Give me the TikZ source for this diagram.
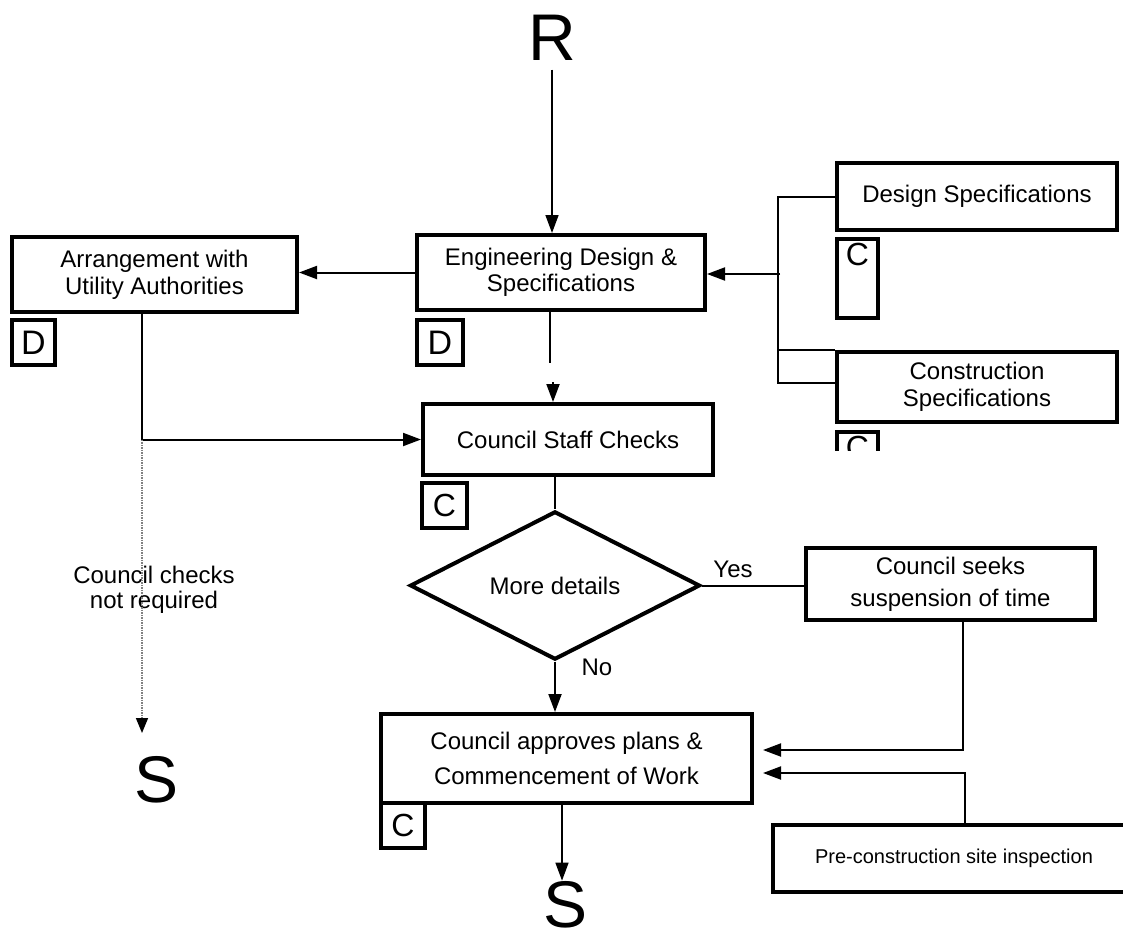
\documentclass[tikz,border=0pt]{standalone}
\usepackage{fontspec}
\setmainfont{Liberation Sans}
\usetikzlibrary{shapes.geometric,arrows.meta}

\begin{document}
\begin{tikzpicture}[x=1pt,y=-1pt,line width=2pt,
  box/.style={draw,rectangle,line width=4pt,inner sep=0pt,align=center,font=\fontsize{24}{26}\selectfont},
  tag/.style={draw,rectangle,line width=3.5pt,inner sep=0pt,font=\fontsize{34}{34}\selectfont},
  big/.style={inner sep=0pt,font=\fontsize{66}{66}\selectfont},
  lbl/.style={inner sep=0pt,align=center,font=\fontsize{24}{25}\selectfont},
  arr/.style={-{Triangle[length=18pt,width=13pt]}}]
  \useasboundingbox (0,0) rectangle (1123,937);

  \node[big] (0) at (552,38) {R};

  \node[box,minimum width=288pt,minimum height=75pt] (1) at (561,272.5) {Engineering Design \&\\Specifications};
  \node[box,minimum width=285pt,minimum height=75pt,font=\fontsize{24}{27}\selectfont] (2) at (154.5,274.5) {Arrangement with\\Utility Authorities};
  \node[tag,minimum width=43pt,minimum height=45pt] (3) at (33.5,342.5) {D};
  \node[tag,minimum width=46pt,minimum height=45pt] (4) at (440,342.5) {D};

  \node[box,minimum width=280pt,minimum height=67pt] (5) at (977,196.5) {Design Specifications};
  \node[tag,minimum width=41pt,minimum height=79pt,text height=26pt,text depth=53pt,font=\fontsize{32}{32}\selectfont] (6) at (857.5,278.5) {C};
  \node[box,minimum width=280pt,minimum height=70pt,font=\fontsize{24}{27}\selectfont] (7) at (977,387) {Construction\\Specifications};
  \begin{scope}
    \clip (820,420) rectangle (900,450);
    \node[tag,minimum width=41pt,minimum height=79pt,text height=26pt,text depth=53pt,font=\fontsize{32}{32}\selectfont] (8) at (857.5,471.5) {C};
  \end{scope}

  \node[box,minimum width=290pt,minimum height=71pt] (9) at (568,439.5) {Council Staff Checks};
  \node[tag,minimum width=45pt,minimum height=45pt,font=\fontsize{32}{32}\selectfont] (10) at (444.5,505.5) {C};

  \node[draw,diamond,line width=4pt,inner sep=0pt,minimum width=290pt,minimum height=132pt,font=\fontsize{24}{26}\selectfont] (11) at (555,585.5) {More details};
  \node[box,minimum width=289pt,minimum height=72pt,font=\fontsize{24}{32}\selectfont] (12) at (950.5,584) {Council seeks\\suspension of time};

  \node[box,minimum width=371pt,minimum height=89pt,font=\fontsize{24}{35}\selectfont] (13) at (566.5,758.5) {Council approves plans \&\\Commencement of Work};
  \node[tag,minimum width=44pt,minimum height=45pt,font=\fontsize{32}{32}\selectfont] (14) at (403,825.5) {C};
  \node[box,minimum width=362pt,minimum height=67pt,font=\fontsize{20}{22}\selectfont] (15) at (954,858.5) {Pre-construction site inspection};

  \node[big] (16) at (157,780) {S};
  \node[big] (17) at (566,905) {S};

  \node[lbl] (18) at (154,590) {Council checks\\not required};
  \node[lbl] (19) at (733,569) {Yes};
  \node[lbl] (20) at (597,667) {No};

  \coordinate (j2) at (780,274);
  \coordinate (e1) at (142,733);

  \draw[arr,line width=1.5pt] ([yshift=-8pt]0.south) -- (0.south |- 1.north);
  \draw[arr] (1.west) -- (1.west -| 2.east);
  \draw ([xshift=-12.5pt]2.south) -- ([xshift=-12.5pt]2.south |- 9.west) coordinate (j1);
  \draw[arr] (j1) -- (9.west);
  \draw[gray,line width=1.5pt,dash pattern=on 1.5pt off 1pt,-{Triangle[length=15pt,width=12pt,color=black]}] (j1) -- (e1);
  \draw ([xshift=-11pt]1.south) -- ++(0,51);
  \draw[arr] ([xshift=-15pt,yshift=20pt]9.north) -- ([xshift=-15pt]9.north);
  \draw (5.west) -| ([xshift=-57pt,yshift=4pt]7.west) -- ([yshift=4pt]7.west);
  \draw ([xshift=-57pt]7.north west) -- (7.north west);
  \draw[arr] (j2) -- (j2 -| 1.east);
  \draw[line width=1.5pt] (11.north |- 9.south) -- (11.north);
  \draw (11.east) -- (11.east -| 12.west);
  \draw[arr] (11.south) -- (11.south |- 13.north);
  \draw[arr] ([xshift=12.5pt]12.south) |- ([xshift=9pt,yshift=8.5pt]13.east);
  \draw[arr] ([xshift=11pt]15.north) |- ([xshift=9pt,yshift=-14.5pt]13.east);
  \draw[arr,line width=1.5pt] ([xshift=-4.5pt]13.south) -- ([xshift=-4.5pt]13.south |- 17.north);
\end{tikzpicture}
\end{document}
